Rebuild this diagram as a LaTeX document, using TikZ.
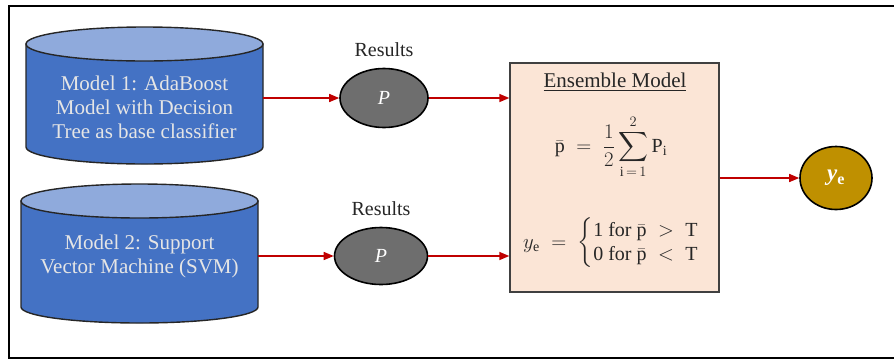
\documentclass[tikz,border=0pt]{standalone}
\usepackage{fontspec}
\usepackage{amsmath}
\setmainfont{Liberation Serif}
\usetikzlibrary{arrows.meta,shapes.geometric,calc}

\definecolor{cylbody}{HTML}{4472C4}
\definecolor{cyltop}{HTML}{8FAADC}
\definecolor{arrred}{HTML}{C00000}
\definecolor{resgray}{HTML}{6E6E6E}
\definecolor{boxfill}{HTML}{FBE5D6}
\definecolor{boxline}{HTML}{404040}
\definecolor{gold}{HTML}{BF9000}

\tikzset{
  cylside/.style={fill=cylbody, draw=black!85, line width=1.4pt},
  cyllid/.style={fill=cyltop, draw=black!85, line width=1.4pt},
  cylarea/.style={rectangle, inner sep=0pt},
  cyltext/.style={text=white!90!black, align=center, font=\fontsize{21}{24}\selectfont},
  result/.style={ellipse, fill=resgray, draw=black, line width=1.6pt, inner sep=0pt,
                 text=white, font=\fontsize{20}{24}\selectfont\itshape},
  reslabel/.style={text=black!85, font=\fontsize{20}{24}\selectfont},
  ensbox/.style={rectangle, fill=boxfill, draw=boxline, line width=1.4pt, inner sep=0pt},
  formula/.style={inner sep=0pt, text=black!85, font=\fontsize{20}{24}\selectfont},
  outnode/.style={ellipse, fill=gold, draw=black, line width=1.6pt, inner sep=0pt,
                  text=white, font=\fontsize{23}{24}\selectfont},
  flow/.style={draw=arrred, line width=1.5pt, -{Triangle[length=10pt,width=8pt]}},
}

\begin{document}
\begin{tikzpicture}[x=1pt,y=-1pt]
\useasboundingbox (0,0) rectangle (894,360);
\fill[white] (0,0) rectangle (894,360);

% outer frame (open on the right)
\draw[line width=2.6pt, black] (894,6) -- (9,6) -- (9,358) -- (894,358);

% ---- cylinder 1 ----
\path[cylside] (26,44) -- (26,147)
  arc[start angle=180, end angle=0, x radius=118.5, y radius=17] -- (263,44) -- cycle;
\draw[cyllid] (144.5,44) ellipse [x radius=118.5, y radius=17];
\node[cylarea, minimum width=237pt, minimum height=100pt] (m1) at (144.5,98) {};
\node[cyltext] (m1t) at (144.5,107) {Model 1: AdaBoost\\Model with Decision\\Tree as base classifier};

% ---- cylinder 2 ----
\path[cylside] (21,201) -- (21,307)
  arc[start angle=180, end angle=0, x radius=118.5, y radius=16] -- (258,201) -- cycle;
\draw[cyllid] (139.5,201) ellipse [x radius=118.5, y radius=17];
\node[cylarea, minimum width=237pt, minimum height=100pt] (m2) at (139.5,256) {};
\node[cyltext] (m2t) at (139.5,256) {Model 2: Support\\Vector Machine (SVM)};

% ---- result nodes ----
\node[result, minimum width=88pt, minimum height=59pt] (p1) at (384,98) {P};
\node[reslabel] (r1) at (384,50) {Results};
\node[result, minimum width=93pt, minimum height=57pt] (p2) at (381,256) {P};
\node[reslabel] (r2) at (381,209) {Results};

% ---- ensemble box ----
\node[ensbox, minimum width=209pt, minimum height=229pt] (ens) at (614.5,177.5) {};
\node[formula, font=\fontsize{21}{24}\selectfont] (enst) at (615,82) {\underline{Ensemble Model}};
\node[formula] (avg) at (611,147)
  {$\bar{\mathrm{p}} \;=\; \dfrac{1}{2}\displaystyle\sum_{\mathrm{i}\,=\,1}^{2}\mathrm{P_i}$};
\node[formula] (dec) at (621,243)
  {$y_{\mathrm{e}} \;=\; \begin{cases}\mathrm{1\ for}\ \bar{\mathrm{p}} \;>\; \mathrm{T}\\[-5pt] \mathrm{0\ for}\ \bar{\mathrm{p}} \;<\; \mathrm{T}\end{cases}$};

% ---- output ----
\node[outnode, minimum width=72pt, minimum height=63pt] (ye) at (836,178)
  {\textbf{\textit{y}\textsubscript{\upshape e}}};

% ---- connectors ----
\draw[flow] (m1.east) -- (p1.west);
\draw[flow] (p1.east) -- (p1.east -| ens.west);
\draw[flow] (m2.east) -- (p2.west);
\draw[flow] (p2.east) -- (p2.east -| ens.west);
\draw[flow] (ens.east |- ye.west) -- (ye.west);
\end{tikzpicture}
\end{document}
